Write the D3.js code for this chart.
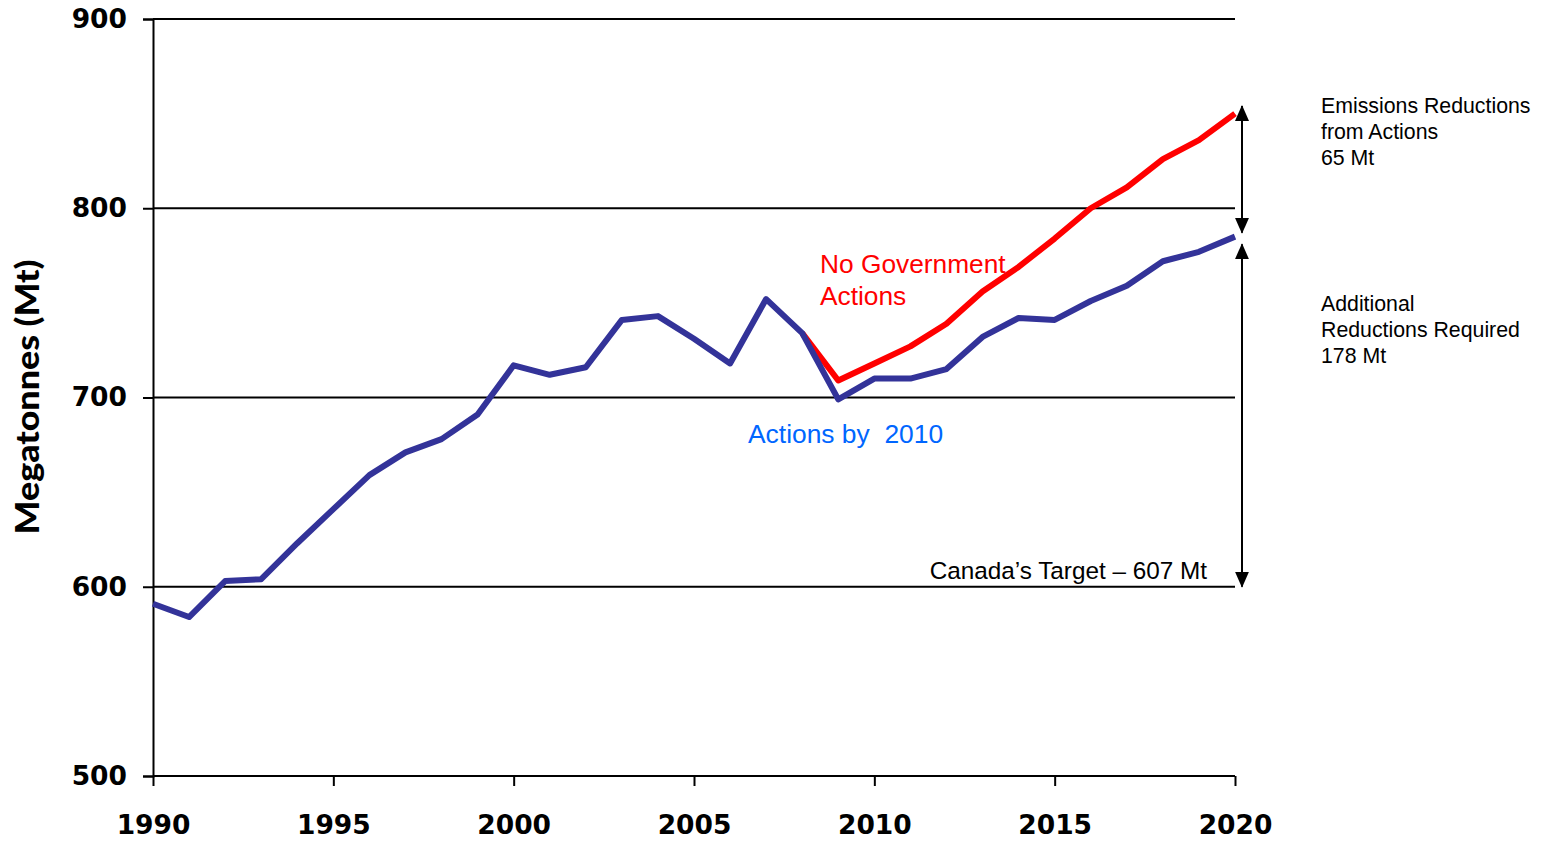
<!DOCTYPE html>
<html>
<head>
<meta charset="utf-8">
<script src="https://cdn.jsdelivr.net/npm/d3@7"></script>
<style>
body { margin: 0; background: #fff; }
svg { display: block; }
</style>
</head>
<body>
<svg></svg>
<script>
// Data
const years = [1990, 1991, 1992, 1993, 1994, 1995, 1996, 1997, 1998, 1999, 2000,
  2001, 2002, 2003, 2004, 2005, 2006, 2007, 2008, 2009, 2010,
  2011, 2012, 2013, 2014, 2015, 2016, 2017, 2018, 2019, 2020];
const actionsBy2010 = [591, 584, 603, 604, 623, 641, 659, 671, 678, 691, 717,
  712, 716, 741, 743, 731, 718, 752, 734, 699, 710,
  710, 715, 732, 742, 741, 751, 759, 772, 777, 785];
const noGovYears = [2008, 2009, 2010, 2011, 2012, 2013, 2014, 2015, 2016, 2017, 2018, 2019, 2020];
const noGovActions = [734, 709, 718, 727, 739, 756, 769, 784, 800, 811, 826, 836, 850];
const yTicks = [500, 600, 700, 800, 900];
const xTicks = [1990, 1995, 2000, 2005, 2010, 2015, 2020];
const gridValues = [600, 700, 800, 900];
const arrows = [[854, 787], [781, 600]];

const width = 1543, height = 841;
const svg = d3.select("svg").attr("width", width).attr("height", height);

const x = d3.scaleLinear().domain([1990, 2020]).range([153, 1235]);
const y = d3.scaleLinear().domain([500, 900]).range([776, 19]);

// gridlines
svg.append("g")
  .selectAll("line")
  .data(gridValues)
  .enter()
  .append("line")
  .attr("x1", x(1990)).attr("x2", x(2020))
  .attr("y1", d => y(d)).attr("y2", d => y(d))
  .attr("stroke", "#000").attr("stroke-width", 2);

// axes
const yAxis = svg.append("g")
  .attr("transform", `translate(${x(1990)},0)`)
  .call(d3.axisLeft(y).tickValues(yTicks).tickSize(10).tickPadding(16).tickFormat(d3.format("d")));
const xAxis = svg.append("g")
  .attr("transform", `translate(0,${y(500)})`)
  .call(d3.axisBottom(x).tickValues(xTicks).tickSize(10).tickPadding(29).tickFormat(d3.format("d")));

[yAxis, xAxis].forEach(g => {
  g.select(".domain").attr("stroke", "#000").attr("stroke-width", 2);
  g.selectAll(".tick line").attr("stroke", "#000").attr("stroke-width", 2);
  g.selectAll(".tick text")
    .attr("fill", "#000")
    .style("font-family", "'DejaVu Sans', Verdana, sans-serif")
    .style("font-weight", "bold")
    .style("font-size", "26.5px");
});
xAxis.select(".domain").attr("d", `M${x(1990)},0H${x(2020)}`);

// y title
svg.append("text")
  .attr("transform", "translate(39,397) rotate(-90)")
  .attr("text-anchor", "middle")
  .attr("textLength", 275)
  .attr("lengthAdjust", "spacingAndGlyphs")
  .style("font-family", "Lato, sans-serif")
  .style("font-weight", "900")
  .style("font-size", "33px")
  .text("Megatonnes (Mt)");

// lines
const line = d3.line().x(d => x(d[0])).y(d => y(d[1]));

svg.append("path")
  .datum(d3.zip(noGovYears, noGovActions))
  .attr("fill", "none")
  .attr("stroke", "#ff0000")
  .attr("stroke-width", 6)
  .attr("stroke-linejoin", "round")
  .attr("d", line);

svg.append("path")
  .datum(d3.zip(years, actionsBy2010))
  .attr("fill", "none")
  .attr("stroke", "#333399")
  .attr("stroke-width", 6)
  .attr("stroke-linejoin", "round")
  .attr("d", line);

// arrows
const defs = svg.append("defs");
defs.append("marker")
  .attr("id", "head")
  .attr("viewBox", "0 0 16 14")
  .attr("refX", 15).attr("refY", 7)
  .attr("markerWidth", 16).attr("markerHeight", 14)
  .attr("markerUnits", "userSpaceOnUse")
  .attr("orient", "auto-start-reverse")
  .append("path")
  .attr("d", "M0,0L16,7L0,14Z")
  .attr("fill", "#000");

const ax = x(2020) + 7;
svg.append("g")
  .selectAll("line")
  .data(arrows)
  .enter()
  .append("line")
  .attr("x1", ax).attr("x2", ax)
  .attr("y1", d => y(d[0])).attr("y2", d => y(d[1]))
  .attr("stroke", "#000").attr("stroke-width", 2)
  .attr("marker-start", "url(#head)")
  .attr("marker-end", "url(#head)");

// annotations
const ann = svg.append("g").style("font-family", "'Liberation Sans', Arial, sans-serif");

function multiline(g, lines, x0, y0, dy, size, color) {
  const t = g.append("text").attr("x", x0).attr("y", y0)
    .style("font-size", size + "px").attr("fill", color);
  lines.forEach((s, i) => {
    t.append("tspan").attr("x", x0).attr("y", y0 + i * dy).text(s);
  });
  return t;
}

multiline(ann, ["Emissions Reductions", "from Actions", "65 Mt"], 1321, 113, 26, 21.3, "#000");
multiline(ann, ["Additional", "Reductions Required", "178 Mt"], 1321, 311, 26, 21.3, "#000");
multiline(ann, ["No Government", "Actions"], 820, 273, 32, 26.3, "#ff0000");

ann.append("text")
  .attr("x", 748).attr("y", 443)
  .style("font-size", "26.4px")
  .attr("fill", "#0066ff")
  .attr("xml:space", "preserve")
  .style("white-space", "pre")
  .text("Actions by  2010");

ann.append("text")
  .attr("x", 1207).attr("y", 579)
  .attr("text-anchor", "end")
  .style("font-size", "24.3px")
  .attr("fill", "#000")
  .text("Canada\u2019s Target \u2013 607 Mt");
</script>
</body>
</html>
